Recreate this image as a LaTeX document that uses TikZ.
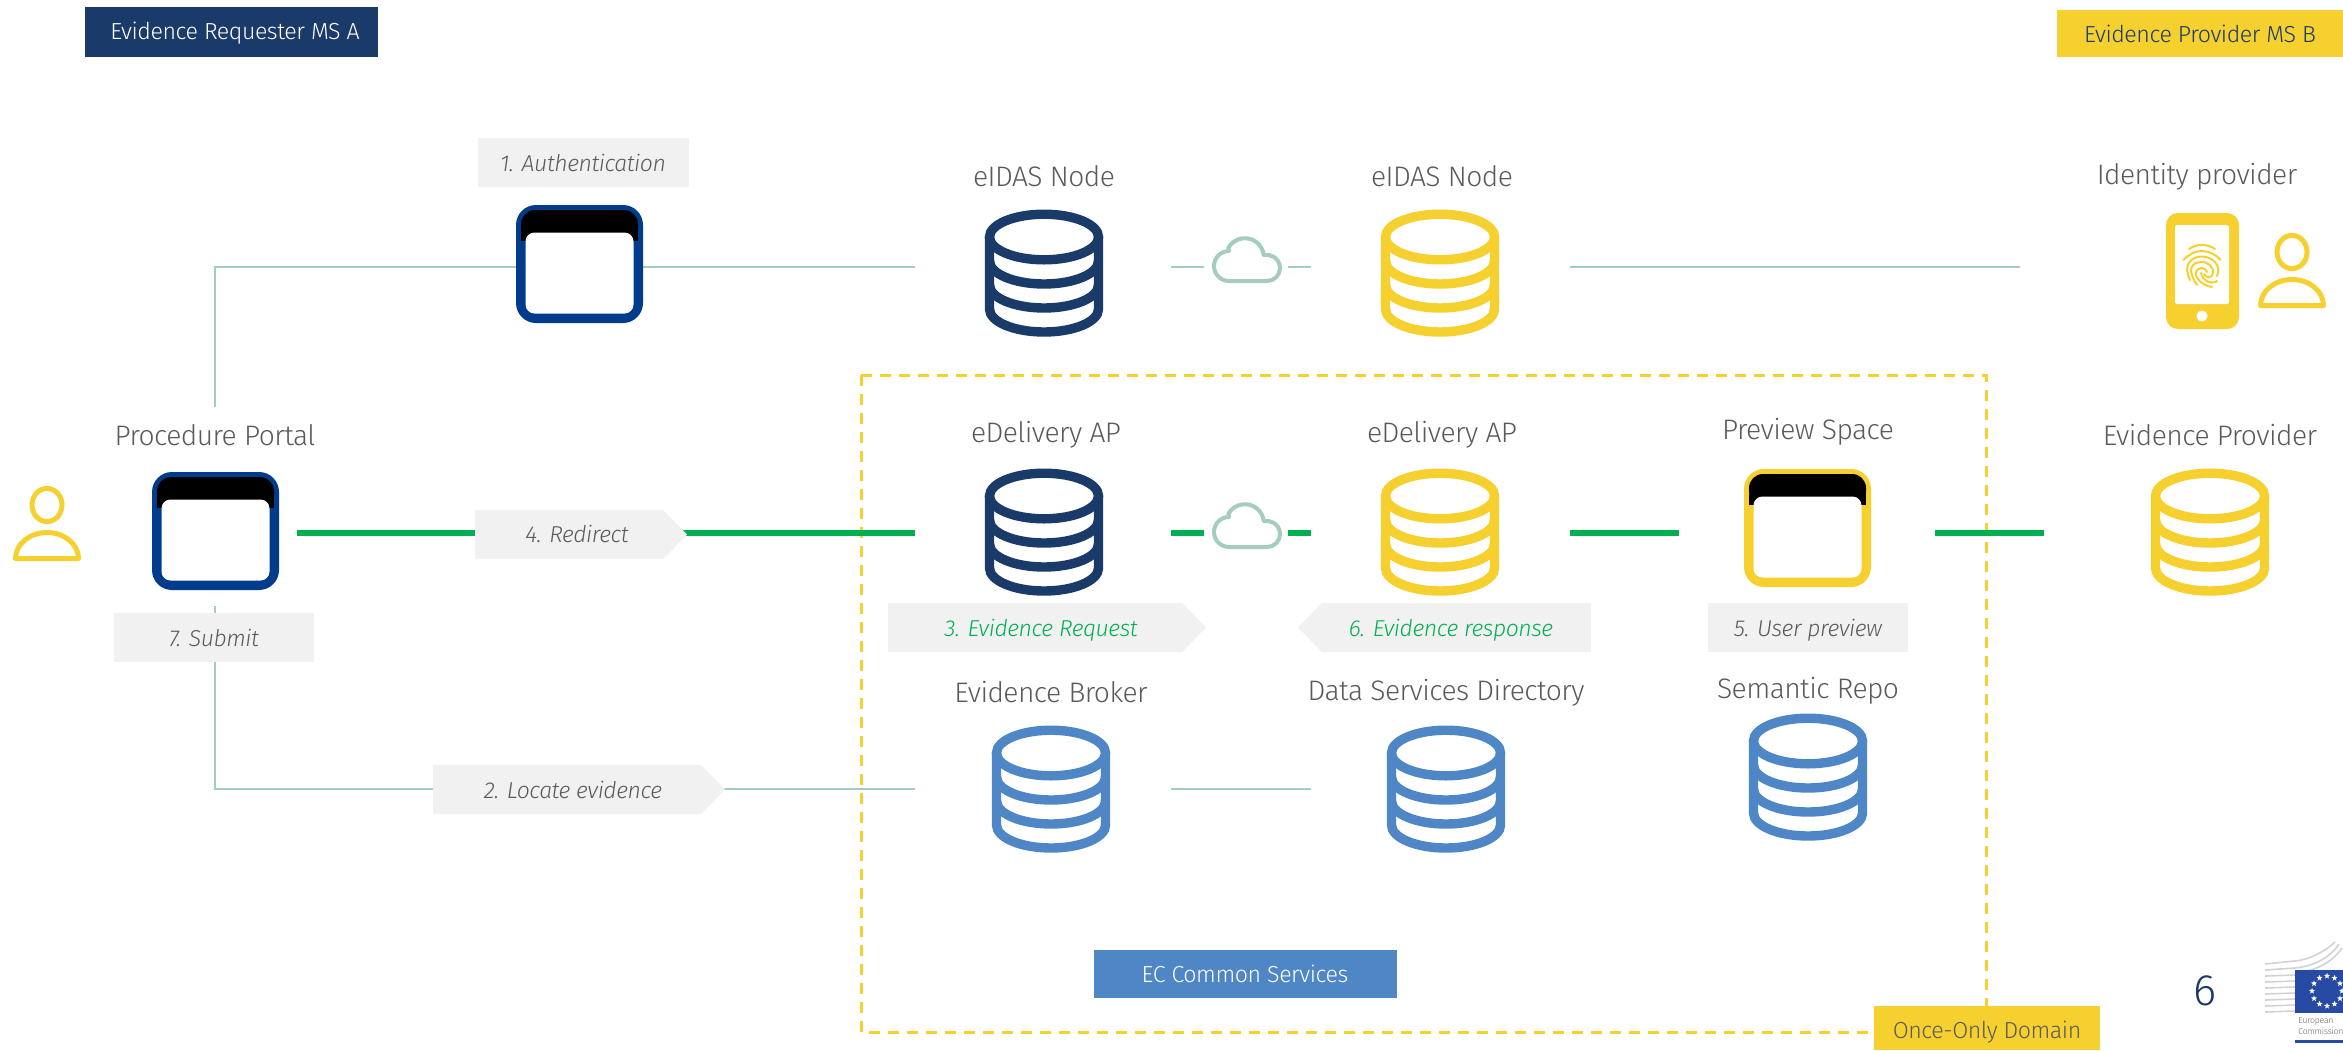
\documentclass[tikz,border=0pt]{standalone}
\usepackage{fontspec}
\setmainfont[LetterSpace=-2]{Fira Sans Light}
\usetikzlibrary{shapes.geometric}
\definecolor{navy}{HTML}{1A3A69}
\definecolor{winblue}{HTML}{003B8C}
\definecolor{ecyellow}{HTML}{F5D02F}
\definecolor{ecblue}{HTML}{4F86C6}
\definecolor{paleg}{HTML}{F1F1F1}
\definecolor{txt}{HTML}{5A5A5A}
\definecolor{ecgreen}{HTML}{00B050}
\definecolor{teal}{HTML}{A5CDBF}
\definecolor{flagblue}{HTML}{274AA5}
\definecolor{logogrey}{HTML}{D2D2D2}
\tikzset{
  x=0.5pt,y=-0.5pt,
  thinline/.style={draw=teal,line width=1pt},
  thickline/.style={draw=ecgreen,line width=3pt},
  title/.style={text=txt,font=\fontsize{14.1}{14.1}\selectfont,inner sep=0pt,anchor=center},
  steptext/.style={text=txt,font=\fontsize{11.5}{11.5}\selectfont\itshape,inner sep=0pt,anchor=center},
  greytag/.style={fill=paleg},
  banner/.style={font=\fontsize{11.6}{11.6}\selectfont,inner sep=0pt,anchor=center},
  iconbox/.style={inner sep=0pt,minimum width=59pt,minimum height=59pt},
  pics/dbicon/.style={code={
    \begin{scope}[draw=#1,line width=4.7pt]
    \draw (0,27) ellipse [x radius=27.25pt,y radius=11.4pt];
    \draw (-54.5,27) -- (-54.5,99) arc[start angle=180,end angle=360,x radius=27.25pt,y radius=11.5pt] -- (54.5,27);
    \draw (-54.5,51) arc[start angle=180,end angle=360,x radius=27.25pt,y radius=11.5pt];
    \draw (-54.5,75) arc[start angle=180,end angle=360,x radius=27.25pt,y radius=11.5pt];
    \end{scope}
  }},
  pics/winicon/.style={code={
    \fill[#1,rounded corners=10pt] (0,0) rectangle (127,118);
    \fill[black,rounded corners=7pt] (5,5) -- (122,5) -- (122,36) -- (5,36) -- cycle;
    \fill[black] (5,25) rectangle (122,36);
    \fill[white,rounded corners=4.5pt] (9.5,27.5) rectangle (117.5,108.5);
  }},
  pics/personicon/.style={code={
    \draw[ecyellow,line width=2.5pt] (0,0) ellipse [x radius=7.5pt,y radius=8.3pt];
    \draw[ecyellow,line width=2.5pt,line join=round] (-31.5,53.5) arc[start angle=180,end angle=0,x radius=15.75pt,y radius=13pt] -- cycle;
  }},
  pics/cloudicon/.style={code={
    \draw[teal,line width=2pt,line join=round] (53,46)
      arc[start angle=-90,end angle=100,radius=6.5pt]
      -- ++(-1,0)
      arc[start angle=6,end angle=150,radius=9.5pt]
      -- (15,16)
      arc[start angle=90,end angle=270,radius=7.5pt]
      -- cycle;
  }},
}
\begin{document}
\begin{tikzpicture}
\useasboundingbox (0,0) rectangle (2343,1050);
\fill[white] (0,0) rectangle (2343,1050);

% dashed domain
\draw[ecyellow,line width=1.5pt,dash pattern=on 5.5pt off 4pt] (861,375) rectangle (1986,1032);

% icon anchor nodes
\node[iconbox] (auth) at (579.5,264) {};
\node[iconbox] (portal) at (215,531) {};
\node[iconbox] (preview) at (1807.5,528) {};

% connector ends
\coordinate (portalTop) at (215,407);
\coordinate (topCorner) at (215,267);
\coordinate (authL) at (516,267);
\coordinate (authR) at (643,267);
\coordinate (eidasAL) at (915,267);
\coordinate (cl1a) at (1171,267);
\coordinate (cl1b) at (1204,267);
\coordinate (cl1c) at (1288,267);
\coordinate (cl1d) at (1311,267);
\coordinate (eidasBR) at (1570,267);
\coordinate (idpL) at (2020,267);
\coordinate (gPortal) at (297,533);
\coordinate (gA) at (915,533);
\coordinate (cl2a) at (1171,533);
\coordinate (cl2b) at (1204,533);
\coordinate (cl2c) at (1288,533);
\coordinate (cl2d) at (1311,533);
\coordinate (gB) at (1570,533);
\coordinate (gPrevL) at (1679,533);
\coordinate (gPrevR) at (1935,533);
\coordinate (gProv) at (2044,533);
\coordinate (subTop) at (215,606);
\coordinate (subBot) at (215,789);
\coordinate (brokerL) at (915,789);
\coordinate (brokerR) at (1171,789);
\coordinate (dsdL) at (1311,789);

% thin connectors
\draw[thinline] (portalTop) -- (topCorner) -- (authL);
\draw[thinline] (authR) -- (eidasAL);
\draw[thinline] (cl1a) -- (cl1b);
\draw[thinline] (cl1c) -- (cl1d);
\draw[thinline] (eidasBR) -- (idpL);
\draw[thinline] (subTop) -- (subBot) -- (brokerL);
\draw[thinline] (brokerR) -- (dsdL);

% thick connectors
\draw[thickline] (gPortal) -- (gA);
\draw[thickline] (cl2a) -- (cl2b);
\draw[thickline] (cl2c) -- (cl2d);
\draw[thickline] (gB) -- (gPrevL);
\draw[thickline] (gPrevR) -- (gProv);

% databases
\pic at (1044,210) {dbicon=navy};
\pic at (1440,210) {dbicon=ecyellow};
\pic at (1044,469) {dbicon=navy};
\pic at (1440,469) {dbicon=ecyellow};
\pic at (2210,469) {dbicon=ecyellow};
\pic at (1051,726) {dbicon=ecblue};
\pic at (1446,726) {dbicon=ecblue};
\pic at (1808,714) {dbicon=ecblue};

% clouds
\pic at (1214,235) {cloudicon};
\pic at (1214,501) {cloudicon};

% windows
\pic at (516,205) {winicon=winblue};
\pic at (152,472) {winicon=winblue};
\pic at (1744,469) {winicon=ecyellow};

% persons
\pic at (47,505) {personicon};
\pic at (2292,252) {personicon};

% phone
\fill[ecyellow,rounded corners=6pt] (2166,213) rectangle (2239,329);
\fill[white,rounded corners=0.8pt] (2175,225) rectangle (2229,304);
\fill[white] (2202,316) circle (2.8pt);
\begin{scope}[ecyellow,line width=1pt,line cap=round]
\draw (2189,249) .. controls (2197,243.5) and (2207,243.5) .. (2215,249);
\draw (2183.5,260) .. controls (2194,248) and (2210,248) .. (2220.5,260);
\draw (2190,280) .. controls (2182,264) and (2192,256.5) .. (2201.7,256.5) .. controls (2212,256.5) and (2222,265) .. (2217,276);
\draw (2197,285) .. controls (2186,269) and (2192,262) .. (2201.7,262) .. controls (2209,262) and (2214,268) .. (2213,273) .. controls (2212,279) and (2206,278) .. (2204,274);
\draw (2212,287) .. controls (2204,286) and (2195,279) .. (2196,273) .. controls (2197,266.5) and (2205,266.5) .. (2207,272);
\draw (2201,273) .. controls (2203,281) and (2211,285) .. (2217,281);
\end{scope}

% titles
\node[title] (tEidasA) at (1044,176) {eIDAS Node};
\node[title] (tEidasB) at (1442,176) {eIDAS Node};
\node[title] (tIdp) at (2197,177) {Identity provider};
\node[title] (tPortal) at (215,435) {Procedure Portal};
\node[title] (tDelA) at (1046,435) {eDelivery AP};
\node[title] (tDelB) at (1442,435) {eDelivery AP};
\node[title] (tPrev) at (1808,432) {Preview Space};
\node[title] (tProv) at (2210,435) {Evidence Provider};
\node[title] (tBroker) at (1051,692) {Evidence Broker};
\node[title] (tDsd) at (1446,693) {Data Services Directory};
\node[title] (tSem) at (1808,691) {Semantic Repo};

% step tags
\fill[greytag] (478,138) rectangle (689,187);
\node[steptext] (s1) at (583,163) {1. Authentication};
\fill[greytag] (475,510) -- (663,510) -- (687,534.5) -- (663,559) -- (475,559) -- cycle;
\node[steptext] (s4) at (577,534) {4. Redirect};
\fill[greytag] (114,613) rectangle (314,662);
\node[steptext] (s7) at (214,638) {7. Submit};
\fill[greytag] (433,765) -- (701,765) -- (725,789.5) -- (701,814) -- (433,814) -- cycle;
\node[steptext] (s2) at (573,790) {2. Locate evidence};
\fill[greytag] (888,603) -- (1182,603) -- (1206,627.5) -- (1182,652) -- (888,652) -- cycle;
\node[steptext,text=ecgreen] (s3) at (1041,630) {3. Evidence Request};
\fill[greytag] (1591,603) -- (1322,603) -- (1298,627.5) -- (1322,652) -- (1591,652) -- cycle;
\node[steptext,text=ecgreen] (s6) at (1451,630) {6. Evidence response};
\fill[greytag] (1708,603) rectangle (1908,652);
\node[steptext] (s5) at (1808,630) {5. User preview};

% banners
\fill[navy] (85,7) rectangle (378,57);
\node[banner,text=white] (bReq) at (235,33) {Evidence Requester MS A};
\fill[ecyellow] (2057,10) rectangle (2343,57);
\node[banner,text=navy] (bProv) at (2200,34) {Evidence Provider MS B};
\fill[ecblue] (1094,950) rectangle (1397,998);
\node[banner,text=white] (bEc) at (1245,974) {EC Common Services};
\fill[ecyellow] (1874,1006) rectangle (2100,1050);
\node[banner,text=txt] (bOnce) at (1987,1032) {Once-Only Domain};

% page number
\node[text=navy,font=\fontsize{22}{22}\selectfont,inner sep=0pt] (pageno) at (2205,991) {6};

% logo
\begin{scope}[line width=0.8pt,draw=logogrey]
\foreach \yy in {1012,1006,1000,994,988,982,976}{
  \draw (2265,\yy) -- (2295,\yy-1);
}
\draw (2265,970) -- (2295,968) .. controls (2316,966) and (2331,956) .. (2339,944);
\draw (2265,964) -- (2295,961) .. controls (2312,959) and (2325,951) .. (2335,942);
\draw (2295,973) .. controls (2318,971) and (2334,960) .. (2342,948);
\end{scope}
\fill[flagblue] (2295,970) rectangle (2343,1013);
\foreach \a in {0,30,...,330}{
  \node[star,star points=5,star point ratio=2.4,fill=white,inner sep=0pt,minimum size=3.2pt] at ({2327+15*cos(\a)},{991+15*sin(\a)}) {};
}
\node[anchor=west,inner sep=0pt,text=black!60,font=\fontsize{4.3}{4.3}\selectfont] (logoA) at (2298,1021) {European};
\node[anchor=west,inner sep=0pt,text=black!60,font=\fontsize{4.3}{4.3}\selectfont] (logoB) at (2298,1031) {Commission};
\fill[flagblue] (2295,1040) rectangle (2343,1043);
\end{tikzpicture}
\end{document}
